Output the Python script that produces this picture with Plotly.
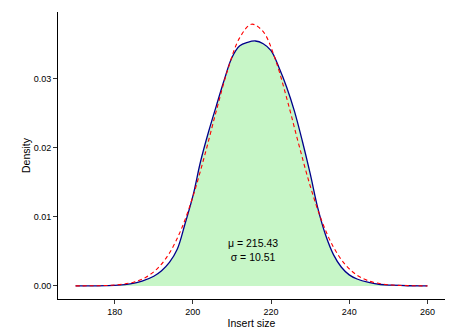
import plotly.graph_objects as go

# estimated density of insert sizes
kde_x = [170, 175, 178, 181, 184, 187, 190, 192, 194, 196, 198, 200, 202, 204, 206, 208,
         210, 212, 214, 216, 218, 220, 222, 224, 226, 228, 230, 232, 234, 236, 238, 240,
         242, 245, 248, 251, 255, 260]
kde_y = [0.0000, 0.00001, 0.00003, 0.0001, 0.0003, 0.0007, 0.0014, 0.0022, 0.0034, 0.0053,
         0.0090, 0.0130, 0.0181, 0.0223, 0.0261, 0.0298, 0.0331, 0.0348, 0.0353, 0.0355,
         0.0351, 0.0341, 0.0317, 0.0288, 0.0253, 0.0210, 0.0163, 0.0112, 0.0073, 0.0045,
         0.0027, 0.0016, 0.0010, 0.0005, 0.0002, 0.0001, 0.00002, 0.0000]

# fitted normal curve (dashed)
norm_x = [170, 173, 176, 179, 182, 185, 188, 191, 194, 197, 200, 203, 206, 209, 212, 215,
          218, 221, 224, 227, 230, 233, 236, 239, 242, 245, 248, 251, 254, 257, 260]
norm_y = [0.0000, 0.00001, 0.00003, 0.00009, 0.00024, 0.00057, 0.00126, 0.00255, 0.00475,
          0.00816, 0.01292, 0.01886, 0.02538, 0.03148, 0.03599, 0.03793, 0.03684, 0.03299,
          0.02723, 0.02071, 0.01452, 0.00939, 0.00559, 0.00307, 0.00155, 0.00072, 0.00031,
          0.00012, 0.00005, 0.00002, 0.0000]

mu_txt = 'μ = 215.43'
sigma_txt = 'σ = 10.51'

fig = go.Figure()
fig.add_trace(go.Scatter(x=kde_x, y=kde_y, mode='lines', line_shape='spline',
                         line=dict(color='#00008B', width=1.3),
                         fill='tozeroy', fillcolor='rgba(144,238,144,0.5)',
                         showlegend=False))
fig.add_trace(go.Scatter(x=norm_x, y=norm_y, mode='lines', line_shape='spline',
                         line=dict(color='red', width=1.1, dash='4px,3px'),
                         showlegend=False))

fig.add_annotation(x=215.5, y=0.0052, text=f'{mu_txt}<br>{sigma_txt}', showarrow=False,
                   font=dict(size=10.5, color='black'), align='center')

axis_style = dict(showline=True, linecolor='black', linewidth=1, showgrid=False,
                  zeroline=False, ticks='outside', ticklen=4, tickcolor='#333333',
                  tickfont=dict(size=9, color='black'), automargin=False)

fig.update_xaxes(range=[165.5, 264.5], tickvals=[180, 200, 220, 240, 260],
                 title=dict(text='Insert size', font=dict(size=10.5, color='black'), standoff=2),
                 **axis_style)
fig.update_yaxes(range=[-0.0019, 0.0397], tickvals=[0, 0.01, 0.02, 0.03],
                 ticktext=['0.00', '0.01', '0.02', '0.03'],
                 title=dict(text='Density', font=dict(size=10.5, color='black'), standoff=0),
                 **axis_style)

# the page body adds an 8px offset, so the figure is drawn 8px smaller
fig.update_layout(
    width=460, height=324,
    margin=dict(l=50, r=23, t=4, b=33),
    plot_bgcolor='white', paper_bgcolor='white',
    font=dict(family='Liberation Sans, Arial, sans-serif'),
)

fig.write_html('out.html')
